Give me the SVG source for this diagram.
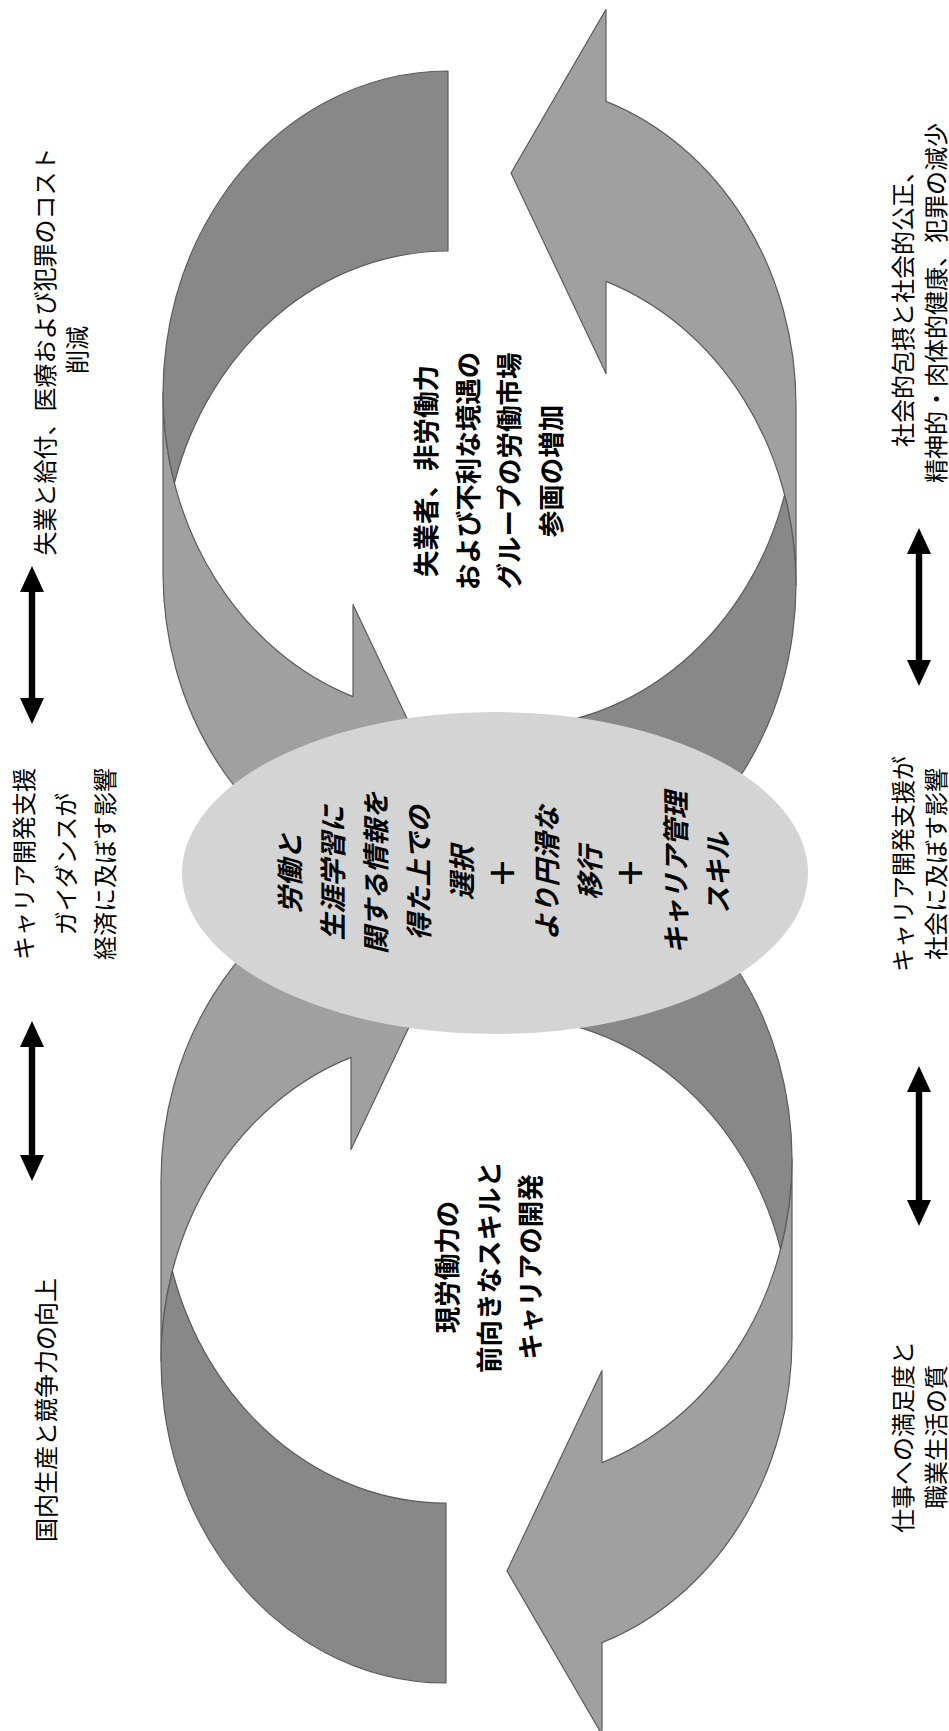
<svg xmlns="http://www.w3.org/2000/svg" xmlns:xlink="http://www.w3.org/1999/xlink" width="949" height="1731" viewBox="0 0 949 1731">
<style>
.lt{fill:#a0a0a0;stroke:#5c5c5c;stroke-width:1.2;stroke-linejoin:round}
.dk{fill:#888888;stroke:#5c5c5c;stroke-width:1.2;stroke-linejoin:round}
.ell{fill:#d4d4d4}
.t{font-family:"Noto Sans CJK JP","Noto Sans",sans-serif;fill:#000;text-anchor:middle}
.side{font-size:24px;font-weight:400}
.ctr{font-size:26.5px;font-weight:700}
.mid{font-size:27px;font-weight:700;font-style:italic}
.plus{font-size:46px;font-weight:400;font-style:normal}
.dbl{fill:#000}
</style>
<defs>
<g id="curvedArrow">
<path class="lt" d="M163,393 A285,322 0 0 0 353,696.6 L353,604.6 L448,805 L353,968.6 L353,876.6 A285,322 0 0 1 163,573 Z"/>
<path class="dk" d="M448,251 A285,322 0 0 0 174.4,483 A285,322 0 0 1 448,71 Z"/>
</g>
</defs>
<g id="upper-left-arrow"><use xlink:href="#curvedArrow"/></g>
<g id="upper-right-arrow"><use xlink:href="#curvedArrow" transform="matrix(-1,0,0,-1,959,978)"/></g>
<g id="lower-left-arrow"><use xlink:href="#curvedArrow" transform="matrix(1,0,0,-1,-2,1754)"/></g>
<g id="lower-right-arrow"><use xlink:href="#curvedArrow" transform="matrix(-1,0,0,1,955,766)"/></g>
<g id="center-ellipse">
<ellipse class="ell" cx="495" cy="873" rx="313" ry="161"/>
<g transform="rotate(-90)" class="t mid">
<text x="-873" y="300">労働と</text>
<text x="-873" y="343">生涯学習に</text>
<text x="-873" y="386">関する情報を</text>
<text x="-873" y="429">得た上での</text>
<text x="-873" y="471.5">選択</text>
<text x="-873" y="519" class="plus">+</text>
<text x="-873" y="557">より円滑な</text>
<text x="-873" y="600">移行</text>
<text x="-873" y="647" class="plus">+</text>
<text x="-873" y="685.5">キャリア管理</text>
<text x="-873" y="728">スキル</text>
</g>
</g>
<g id="upper-cycle-label" transform="rotate(-90)" class="t ctr">
<text x="-471" y="436">失業者、非労働力</text>
<text x="-471" y="477.5">および不利な境遇の</text>
<text x="-471" y="519">グループの労働市場</text>
<text x="-471" y="561">参画の増加</text>
</g>
<g id="lower-cycle-label" transform="rotate(-90)" class="t ctr">
<text x="-1267" y="457">現労働力の</text>
<text x="-1267" y="498.5">前向きなスキルと</text>
<text x="-1267" y="540">キャリアの開発</text>
</g>
<g id="left-top-label" transform="rotate(-90)" class="t side">
<text x="-351.5" y="54">失業と給付、医療および犯罪のコスト</text>
<text x="-350" y="86">削減</text>
</g>
<g id="left-mid-label" transform="rotate(-90)" class="t side">
<text x="-864" y="33">キャリア開発支援</text>
<text x="-864" y="75">ガイダンスが</text>
<text x="-864" y="114">経済に及ぼす影響</text>
</g>
<g id="left-bottom-label" transform="rotate(-90)" class="t side">
<text x="-1410" y="55">国内生産と競争力の向上</text>
</g>
<g id="right-top-label" transform="rotate(-90)" class="t side">
<text x="-303" y="912">社会的包摂と社会的公正、</text>
<text x="-303" y="945">精神的・肉体的健康、犯罪の減少</text>
</g>
<g id="right-mid-label" transform="rotate(-90)" class="t side">
<text x="-864" y="912">キャリア開発支援が</text>
<text x="-864" y="945">社会に及ぼす影響</text>
</g>
<g id="right-bottom-label" transform="rotate(-90)" class="t side">
<text x="-1437" y="912">仕事への満足度と</text>
<text x="-1437" y="945">職業生活の質</text>
</g>
<g id="connectors">
<polygon class="dbl" points="32,566 44,592 35.2,592 35.2,698 44,698 32,724 20,698 28.8,698 28.8,592 20,592"/>
<polygon class="dbl" points="32,1021 44,1047 35.2,1047 35.2,1155 44,1155 32,1181 20,1155 28.8,1155 28.8,1047 20,1047"/>
<polygon class="dbl" points="919,528 931,554 922.2,554 922.2,660 931,660 919,686 907,660 915.8,660 915.8,554 907,554"/>
<polygon class="dbl" points="919,1066 931,1092 922.2,1092 922.2,1200 931,1200 919,1226 907,1200 915.8,1200 915.8,1092 907,1092"/>
</g>
</svg>
